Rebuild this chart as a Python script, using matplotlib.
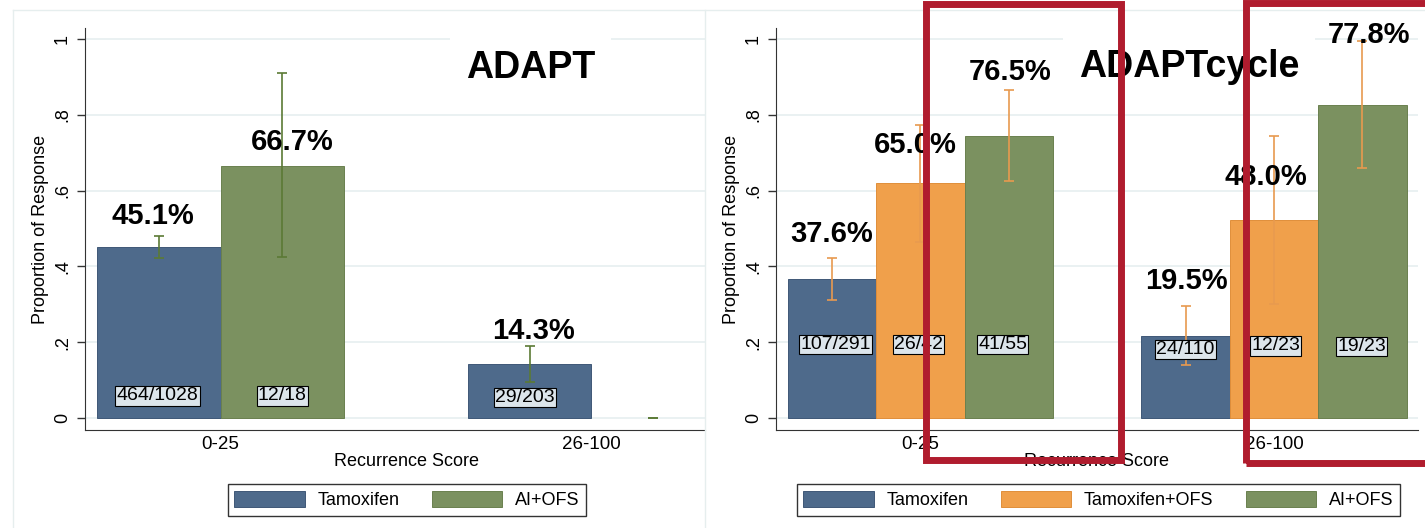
import matplotlib
matplotlib.use("Agg")
import matplotlib.pyplot as plt
from matplotlib.patches import Rectangle, Patch
from matplotlib.lines import Line2D
import numpy as np

# ---------------- data ----------------
groups = ["0-25", "26-100"]

# ADAPT panel
adapt_series = ["Tamoxifen", "AI+OFS"]
adapt_vals = [[0.450, 0.142], [0.666, 0.0]]
adapt_lo = [[0.421, 0.094], [0.425, 0.0]]
adapt_hi = [[0.481, 0.190], [0.910, 0.0]]
adapt_pct = [["45.1%", "14.3%"], ["66.7%", None]]
adapt_counts = [["464/1028", "29/203"], ["12/18", None]]

# ADAPTcycle panel
cycle_series = ["Tamoxifen", "Tamoxifen+OFS", "AI+OFS"]
cycle_vals = [[0.367, 0.217], [0.619, 0.521], [0.745, 0.825]]
cycle_lo = [[0.312, 0.139], [0.465, 0.301], [0.626, 0.659]]
cycle_hi = [[0.423, 0.296], [0.772, 0.743], [0.865, 0.994]]
cycle_pct = [["37.6%", "19.5%"], ["65.0%", "48.0%"], ["76.5%", "77.8%"]]
cycle_counts = [["107/291", "24/110"], ["26/42", "12/23"], ["41/55", "19/23"]]

yticks = [0, 0.2, 0.4, 0.6, 0.8, 1.0]
ytick_labels = ["0", ".2", ".4", ".6", ".8", "1"]

# ---------------- style ----------------
series_colors = {"Tamoxifen": "#4E6A8B", "Tamoxifen+OFS": "#F0A04B", "AI+OFS": "#7B9160"}
edge_colors = {"Tamoxifen": "#3F5877", "Tamoxifen+OFS": "#E08E3A", "AI+OFS": "#6A804F"}
FONT = "Liberation Sans"
plt.rcParams["font.family"] = [FONT, "DejaVu Sans"]
grid_color = "#E4EEEF"
red = "#B01C2E"

fig = plt.figure(figsize=(14.25, 5.28), dpi=100)
W, H = 1425.0, 528.0


def px_axes(x0, x1, y_top, y_bot):
    return [x0 / W, (H - y_bot) / H, (x1 - x0) / W, (y_bot - y_top) / H]


def draw_panel(ax, series, vals, lo, hi, pct, counts, centers, offsets, xlim,
               err_color, pct_pos, cnt_pos, title, title_pos, xlabel_x):
    ax.set_xlim(*xlim)
    ax.set_ylim(-0.032, 1.029)
    for y in yticks:
        ax.axhline(y, color=grid_color, lw=1.1, zorder=0)
    for si, name in enumerate(series):
        xs = np.array(centers) + offsets[si]
        v = np.array(vals[si])
        lws = [0.7 if val > 0 else 0.0 for val in v]
        ax.bar(xs, v, width=1.0, color=series_colors[name],
               edgecolor=edge_colors[name], linewidth=lws, zorder=2)
        yerr = np.vstack([v - np.array(lo[si]), np.array(hi[si]) - v])
        ax.errorbar(xs, v, yerr=yerr, fmt="none", ecolor=err_color,
                    elinewidth=1.2, capsize=3.3, capthick=1.2, zorder=3)
        for gi in range(len(centers)):
            if pct[si][gi] is not None:
                dx, yy = pct_pos[si][gi]
                ax.text(xs[gi] + dx, yy, pct[si][gi], ha="center", va="center",
                        fontsize=21, fontweight="bold", color="black", zorder=5)
            if counts[si][gi] is not None:
                dx, yy = cnt_pos[si][gi]
                ax.text(xs[gi] + dx, yy, counts[si][gi], ha="center", va="center",
                        fontsize=14, color="black", zorder=4,
                        bbox=dict(boxstyle="square,pad=0.06", fc="#DCE5EB",
                                  ec="black", lw=0.8))
    ax.text(title_pos[0], title_pos[1], title, ha="center", va="center",
            fontsize=27, fontweight="bold", color="black", zorder=4,
            bbox=dict(boxstyle="square,pad=0.42", fc="white", ec="none"))
    ax.set_xticks(centers)
    ax.set_xticklabels(groups, fontsize=13.5)
    ax.tick_params(axis="x", length=0, pad=4)
    ax.set_yticks(yticks)
    ax.set_yticklabels(ytick_labels, fontsize=13, rotation=90, va="center")
    ax.tick_params(axis="y", length=6, width=1, pad=4, color="#333333")
    for s in ["top", "right"]:
        ax.spines[s].set_visible(False)
    ax.spines["left"].set_color("#333333")
    ax.spines["bottom"].set_color("#333333")
    ax.set_xlabel("Recurrence Score", fontsize=13, labelpad=3)
    ax.xaxis.set_label_coords(xlabel_x, -0.058)
    ax.set_ylabel("Proportion of Response", fontsize=13, labelpad=4)


# faint graph-region borders
fig.add_artist(Line2D([13 / W, 13 / W], [0, (H - 9.5) / H], color="#E6EEEE", lw=1,
                      transform=fig.transFigure))
fig.add_artist(Line2D([13 / W, 1.0], [(H - 9.5) / H] * 2, color="#E6EEEE", lw=1,
                      transform=fig.transFigure))
fig.add_artist(Line2D([705 / W, 705 / W], [0, (H - 9.5) / H], color="#E6EEEE", lw=1,
                      transform=fig.transFigure))

# left panel
ax1 = fig.add_axes(px_axes(85, 705, 28, 430))
draw_panel(ax1, adapt_series, adapt_vals, adapt_lo, adapt_hi, adapt_pct, adapt_counts,
           centers=[0, 3], offsets=[-0.5, 0.5], xlim=(-1.097, 3.92),
           err_color="#5B7A35",
           pct_pos=[[(-0.05, 0.533), (0.03, 0.23)], [(0.08, 0.728), None]],
           cnt_pos=[[(-0.01, 0.058), (-0.04, 0.053)], [(0.0, 0.058), None]],
           title="ADAPT", title_pos=(2.51, 0.923), xlabel_x=(406 - 85) / 620)

# right panel
ax2 = fig.add_axes(px_axes(776, 1418, 28, 430))
draw_panel(ax2, cycle_series, cycle_vals, cycle_lo, cycle_hi, cycle_pct, cycle_counts,
           centers=[0, 4], offsets=[-1, 0, 1], xlim=(-1.635, 5.63),
           err_color="#E89A4F",
           pct_pos=[[(-0.01, 0.484), (0.01, 0.361)], [(-0.06, 0.72), (-0.09, 0.636)],
                    [(0.02, 0.913), (0.08, 1.01)]],
           cnt_pos=[[(0.04, 0.193), (0.0, 0.18)], [(-0.02, 0.193), (0.02, 0.19)],
                    [(-0.07, 0.193), (-0.01, 0.188)]],
           title="ADAPTcycle", title_pos=(3.04, 0.925), xlabel_x=0.5)


def add_legend(series, cx):
    handles = [Patch(facecolor=series_colors[s], edgecolor=edge_colors[s], lw=0.7)
               for s in series]
    leg = fig.legend(handles, series, loc="center",
                     bbox_to_anchor=(cx / W, (H - 500) / H), ncol=len(series),
                     fontsize=13, frameon=True, fancybox=False, framealpha=1,
                     edgecolor="#333333", handlelength=3.9, handleheight=1.05,
                     handletextpad=0.7, columnspacing=1.8, borderpad=0.35)
    leg.get_frame().set_linewidth(1.0)


add_legend(adapt_series, 407)
add_legend(cycle_series, 1098.5)

# red highlight rectangles
lw_red = 5.0
fig.add_artist(Rectangle((926 / W, (H - 460) / H), (1121 - 926) / W, (460 - 3.5) / H,
                         transform=fig.transFigure, fill=False, ec=red, lw=lw_red,
                         zorder=20))
fig.add_artist(Rectangle((1245.5 / W, (H - 463) / H), (1500 - 1245.5) / W, (463 - 3.5) / H,
                         transform=fig.transFigure, fill=False, ec=red, lw=lw_red,
                         zorder=20, clip_on=False))

fig.savefig("out.png", dpi=100, facecolor="white")
